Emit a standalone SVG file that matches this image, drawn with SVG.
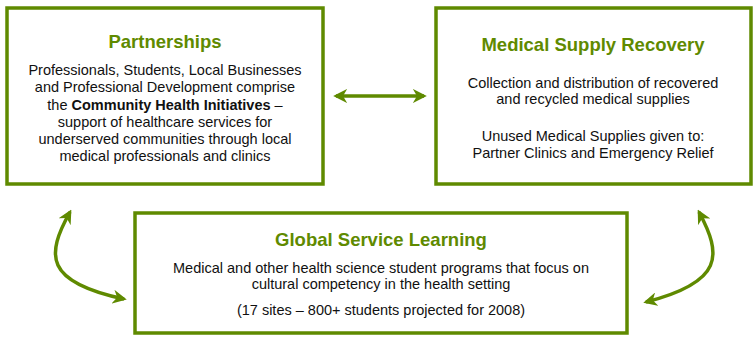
<svg xmlns="http://www.w3.org/2000/svg" width="754" height="354" viewBox="0 0 754 354">
<style>
.box{fill:#fff;stroke:#5f8a00;stroke-width:3.5}
.t{font-family:"Liberation Sans",Arial,sans-serif;font-weight:bold;font-size:18.5px;fill:#5f8a00;text-anchor:middle}
.b{font-family:"Liberation Sans",Arial,sans-serif;font-size:14.5px;fill:#111;text-anchor:middle}
.c{fill:none;stroke:#5f8a00;stroke-width:3.5}
</style>
<defs>
<marker id="ah" viewBox="0 0 10 10" refX="8" refY="5" markerWidth="4" markerHeight="4" orient="auto-start-reverse" markerUnits="strokeWidth">
<path d="M0,0 L10,5 L0,10 L3,5 Z" fill="#5f8a00"/>
</marker>
</defs>
<rect width="754" height="354" fill="#fff"/>
<g id="connectors">
<path class="c" d="M336,96 L424,96" marker-start="url(#ah)" marker-end="url(#ah)"/>
<path class="c" d="M70,212 C46,255 44,282 124,299" marker-start="url(#ah)" marker-end="url(#ah)"/>
<path class="c" d="M699,212 C722,255 724,282 646,302" marker-start="url(#ah)" marker-end="url(#ah)"/>
</g>
<g id="partnerships">
<rect class="box" x="7" y="8" width="316" height="176"/>
<text class="t" x="165" y="48">Partnerships</text>
<text class="b" x="165" y="75">Professionals, Students, Local Businesses</text>
<text class="b" x="165" y="92">and Professional Development comprise</text>
<text class="b" x="165" y="110">the <tspan font-weight="bold">Community Health Initiatives</tspan> –</text>
<text class="b" x="165" y="127">support of healthcare services for</text>
<text class="b" x="165" y="144">underserved communities through local</text>
<text class="b" x="165" y="161">medical professionals and clinics</text>
</g>
<g id="medical-supply-recovery">
<rect class="box" x="436" y="8" width="315" height="176"/>
<text class="t" x="593" y="51">Medical Supply Recovery</text>
<text class="b" x="593" y="88">Collection and distribution of recovered</text>
<text class="b" x="593" y="104">and recycled medical supplies</text>
<text class="b" x="593" y="141">Unused Medical Supplies given to:</text>
<text class="b" x="593" y="158">Partner Clinics and Emergency Relief</text>
</g>
<g id="global-service-learning">
<rect class="box" x="135" y="213" width="492" height="120"/>
<text class="t" x="381" y="246">Global Service Learning</text>
<text class="b" x="381" y="273">Medical and other health science student programs that focus on</text>
<text class="b" x="381" y="289">cultural competency in the health setting</text>
<text class="b" x="381" y="315">(17 sites – 800+ students projected for 2008)</text>
</g>
</svg>
